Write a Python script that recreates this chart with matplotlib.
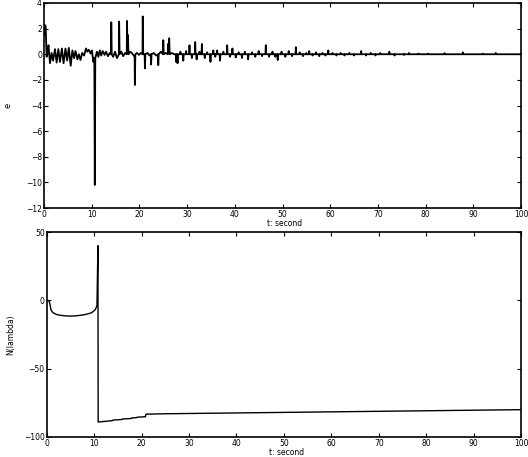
import matplotlib
matplotlib.use("Agg")
import matplotlib.pyplot as plt

# ---- data: tracking error e(t) ----
t_e = [0.0, 0.1, 0.35, 0.55, 0.75, 0.95, 1.25, 1.6, 1.9, 2.3, 2.65, 3.0, 3.35, 3.75, 4.1, 4.5,
       4.85, 5.2, 5.6, 5.95, 6.3, 6.6, 7.0, 7.3, 7.65, 8.0, 8.4, 8.8, 9.1, 9.4, 9.75, 10.05,
       10.35, 10.55, 10.65, 10.75, 11.1, 11.4, 11.7, 12.0, 12.3, 12.7, 13.0, 13.4, 13.8,
       14.05, 14.1, 14.2, 14.5, 14.9, 15.3, 15.7, 15.75, 15.85, 16.2, 16.6, 17.0, 17.35,
       17.4, 17.5, 17.6, 17.7, 18.0, 18.4, 18.8, 19.0, 19.05, 19.15, 19.5, 19.9, 20.3,
       20.65, 20.7, 20.8, 21.1, 21.15, 21.25, 21.7, 22.1, 22.4, 22.45, 22.55, 23.0, 23.5,
       23.9, 23.95, 24.05, 24.5, 24.95, 25.0, 25.1, 25.5, 25.95, 26.0, 26.1, 26.25, 26.35,
       26.8, 27.3,
       27.62, 27.7, 27.78, 27.92, 28.0, 28.08, 28.52, 28.6, 28.68, 29.12, 29.2, 29.28,
       29.72, 29.8, 29.88, 30.42, 30.5, 30.58, 30.92, 31.0, 31.08, 31.62, 31.7, 31.78,
       31.92, 32.0, 32.08, 32.52, 32.6, 32.68, 33.02, 33.1, 33.18, 33.62, 33.7, 33.78,
       34.12, 34.2, 34.28, 34.82, 34.9, 34.98, 35.42, 35.5, 35.58, 35.82, 35.9, 35.98,
       36.22, 36.3, 36.38, 36.82, 36.9, 36.98, 37.52, 37.6, 37.68, 38.32, 38.4, 38.48,
       38.92, 39.0, 39.08, 39.42, 39.5, 39.58, 40.12, 40.2, 40.28, 40.72, 40.8, 40.88,
       41.42, 41.5, 41.58, 42.02, 42.1, 42.18, 42.72, 42.8, 42.88, 43.52, 43.6, 43.68,
       44.22, 44.3, 44.38, 44.92, 45.0, 45.08, 45.62, 45.7, 45.78, 46.42, 46.5, 46.58,
       47.12, 47.2, 47.28, 47.82, 47.9, 47.98, 48.42, 48.5, 48.58, 48.92, 49.0, 49.08,
       49.72, 49.8, 49.88, 50.52, 50.6, 50.68, 51.22, 51.3, 51.38, 51.92, 52.0, 52.08,
       52.72, 52.8, 52.88, 53.52, 53.6, 53.68, 54.22, 54.3, 54.38, 54.92, 55.0, 55.08,
       55.52, 55.6, 55.68, 56.22, 56.3, 56.38, 56.92, 57.0, 57.08, 57.62, 57.7, 57.78,
       58.32, 58.4, 58.48, 58.92, 59.0, 59.08, 59.52, 59.6, 59.68, 60.42, 60.5, 60.58,
       61.22, 61.3, 61.38, 62.12, 62.2, 62.28, 62.92, 63.0, 63.08, 63.92, 64.0, 64.08,
       64.92, 65.0, 65.08, 66.42, 66.5, 66.58, 67.42, 67.5, 67.58, 68.42, 68.5, 68.58,
       69.42, 69.5, 69.58, 70.42, 70.5, 70.58, 72.32, 72.4, 72.48, 73.42, 73.5, 73.58,
       75.42, 75.5, 75.58, 76.42, 76.5, 76.58, 78.42, 78.5, 78.58, 80.42, 80.5, 80.58,
       83.92, 84.0, 84.08, 87.72, 87.8, 87.88, 91.92, 92.0, 92.08, 94.62, 94.7, 94.78,
       100.0]
e_val = [1.5, 2.3, 2.2, -0.2, 0.2, 0.7, -0.7, 0.1, -0.5, 0.4, -0.65, 0.4, -0.6, 0.45, -0.7, 0.45,
         -0.5, 0.5, -0.9, 0.3, -0.3, 0.25, -0.4, 0.0, -0.45, 0.1, -0.1, 0.45, 0.2, 0.35, 0.05, 0.3,
         -0.6, -0.3, -10.2, -0.3, 0.2, -0.2, 0.3, -0.1, 0.25, -0.05, 0.2, -0.15, 0.1,
         0.0, 2.5, 0.0, -0.2, 0.2, -0.3, 0.0, 2.55, 0.0, 0.2, -0.15, 0.1, 0.0,
         2.6, 0.3, 1.5, 0.0, 0.2, 0.1, -0.1, -0.2, -2.4, 0.0, 0.1, -0.05, 0.1,
         0.0, 2.95, 0.0, 0.0, -1.1, 0.0, 0.1, -0.1, 0.0, -0.8, 0.0, 0.1, -0.1,
         0.0, -0.85, 0.0, 0.2, 0.0, 1.1, 0.0, 0.1, 0.0, 0.8, 0.2, 1.25, 0.0,
         0.1, 0.0,
         0, -0.6, 0, 0, -0.7, 0, 0, 0.2, 0, 0, -0.5, 0,
         0, 0.25, 0, 0, 0.7, 0, 0, -0.3, 0, 0, 0.95, 0,
         0, -0.4, 0, 0, 0.2, 0, 0, 0.8, 0, 0, -0.3, 0,
         0, 0.15, 0, 0, -0.6, 0, 0, 0.3, 0, 0, -0.2, 0,
         0, 0.3, 0, 0, -0.5, 0, 0, 0.2, 0, 0, 0.7, 0,
         0, -0.2, 0, 0, 0.45, 0, 0, -0.25, 0, 0, 0.15, 0,
         0, -0.3, 0, 0, 0.2, 0, 0, -0.4, 0, 0, 0.15, 0,
         0, -0.2, 0, 0, 0.25, 0, 0, -0.15, 0, 0, 0.7, 0,
         0, -0.2, 0, 0, 0.2, 0, 0, -0.2, 0, 0, -0.45, 0,
         0, 0.2, 0, 0, -0.2, 0, 0, 0.25, 0, 0, -0.15, 0,
         0, 0.55, 0, 0, 0.15, 0, 0, -0.15, 0, 0, 0.1, 0,
         0, 0.25, 0, 0, -0.1, 0, 0, 0.15, 0, 0, -0.15, 0,
         0, 0.1, 0, 0, -0.1, 0, 0, 0.3, 0, 0, 0.1, 0,
         0, -0.1, 0, 0, 0.1, 0, 0, -0.1, 0, 0, 0.1, 0,
         0, -0.1, 0, 0, 0.25, 0, 0, -0.1, 0, 0, 0.1, 0,
         0, -0.1, 0, 0, 0.1, 0, 0, 0.2, 0, 0, -0.1, 0,
         0, -0.05, 0, 0, 0.1, 0, 0, 0.05, 0, 0, 0.05, 0,
         0, 0.08, 0, 0, 0.15, 0, 0, 0.05, 0, 0, 0.1, 0,
         0.0]

# ---- data: N(lambda) ----
t_n = [0.0, 0.5, 0.7, 0.9, 1.3, 2.0, 3.0, 4.0, 5.0, 6.0, 7.0, 8.0, 9.0, 9.5, 10.2, 10.6,
       10.8, 10.85, 11.0, 13.9, 14.0, 15.9, 16.0, 17.8, 17.9, 19.0, 19.1, 20.8, 20.9, 21.0,
       25.0, 30.0, 40.0, 50.0, 60.0, 70.0, 80.0, 90.0, 100.0]
n_val = [0.0, -0.5, -3.0, -7.0, -9.0, -10.3, -11.0, -11.4, -11.5, -11.4, -11.0, -10.5, -9.6,
         -9.0, -7.0, -4.0, 40.0, -89.0, -89.0, -88.0, -87.6, -87.2, -86.8, -86.5, -86.1,
         -85.8, -85.5, -85.2, -83.5, -83.3, -83.0, -82.8, -82.4, -82.0, -81.6, -81.2, -80.8,
         -80.4, -80.0]

x_ticks = [0, 10, 20, 30, 40, 50, 60, 70, 80, 90, 100]
e_ticks = [4, 2, 0, -2, -4, -6, -8, -10, -12]
n_ticks = [50, 0, -50, -100]

W, H = 528, 457
fig = plt.figure(figsize=(W / 100, H / 100), dpi=100)
plt.rcParams['font.family'] = ['DejaVu Sans']

def style(ax):
    for s in ax.spines.values():
        s.set_linewidth(1.2)
    ax.tick_params(direction='in', length=3, width=0.8, labelsize=5.5, pad=1.5,
                   top=True, right=True)

ax1 = fig.add_axes([44 / W, 1 - 208 / H, (521 - 44) / W, 205 / H])
ax1.plot(t_e, e_val, color='black', lw=1.3)
ax1.set_xlim(0, 100)
ax1.set_ylim(-12, 4)
ax1.set_xticks(x_ticks)
ax1.set_yticks(e_ticks)
style(ax1)
ax1.set_xlabel('t: second', fontsize=5.5)
ax1.set_ylabel('e', fontsize=6)
ax1.xaxis.set_label_coords(0.505, -0.056)
ax1.yaxis.set_label_coords(-0.065, 0.5)

ax2 = fig.add_axes([46.7 / W, 1 - 437 / H, (521 - 46.7) / W, 205 / H])
ax2.plot(t_n, n_val, color='black', lw=1.0)
ax2.set_xlim(0, 100)
ax2.set_ylim(-100, 50)
ax2.set_xticks(x_ticks)
ax2.set_yticks(n_ticks)
style(ax2)
ax2.set_xlabel('t: second', fontsize=5.5)
ax2.set_ylabel('N(lambda)', fontsize=5.5)
ax2.xaxis.set_label_coords(0.505, -0.056)
ax2.yaxis.set_label_coords(-0.067, 0.5)

fig.savefig('out.png', dpi=100)
